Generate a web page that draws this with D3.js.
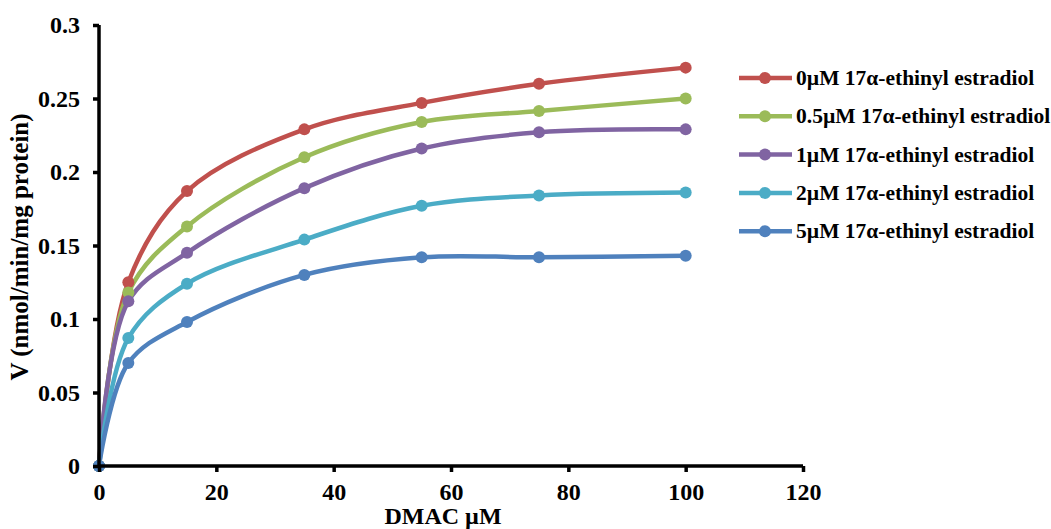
<!DOCTYPE html>
<html><head><meta charset="utf-8">
<script src="https://cdn.jsdelivr.net/npm/d3@7"></script>
<style>body{margin:0;background:#fff}svg{display:block}</style>
</head><body>
<svg id="c" width="1051" height="529"></svg>
<script>
const xValues = [0, 5, 15, 35, 55, 75, 100];
const seriesNames = ["0\u00b5M 17\u03b1-ethinyl estradiol","0.5\u00b5M 17\u03b1-ethinyl estradiol","1\u00b5M 17\u03b1-ethinyl estradiol","2\u00b5M 17\u03b1-ethinyl estradiol","5\u00b5M 17\u03b1-ethinyl estradiol"];
const s0 = [0, 0.125, 0.187, 0.229, 0.247, 0.260, 0.271];
const s05 = [0, 0.118, 0.163, 0.210, 0.234, 0.2415, 0.250];
const s1 = [0, 0.112, 0.145, 0.189, 0.216, 0.227, 0.229];
const s2 = [0, 0.087, 0.124, 0.154, 0.177, 0.184, 0.186];
const s5 = [0, 0.070, 0.098, 0.130, 0.142, 0.142, 0.143];
const seriesValues = [s0, s05, s1, s2, s5];
const colors = ["#C0504D","#9BBB59","#8064A2","#4BACC6","#4F81BD"];
const xTicks = [0,20,40,60,80,100,120];
const yTicks = [0,0.05,0.1,0.15,0.2,0.25,0.3];
const yTickLabels = ["0","0.05","0.1","0.15","0.2","0.25","0.3"];

const svg = d3.select("#c");
const font = "'Liberation Serif','Times New Roman',serif";
const x = d3.scaleLinear().domain([0,120]).range([99,803]);
const y = d3.scaleLinear().domain([0,0.3]).range([466,25]);

const line = d3.line().x(d=>x(d[0])).y(d=>y(d[1])).curve(d3.curveCatmullRom.alpha(0.5));

seriesValues.forEach((vals,i)=>{
  const pts = xValues.map((xv,j)=>[xv,vals[j]]);
  svg.append("path").attr("d",line(pts)).attr("fill","none")
    .attr("stroke",colors[i]).attr("stroke-width",4.5).attr("stroke-linecap","round");
});
seriesValues.forEach((vals,i)=>{
  svg.selectAll(null).data(xValues.map((xv,j)=>[xv,vals[j]])).enter().append("circle")
    .attr("cx",d=>x(d[0])).attr("cy",d=>y(d[1])).attr("r",6).attr("fill",colors[i]);
});

const yAxis = d3.axisLeft(y).tickValues(yTicks).tickSize(6).tickFormat((d,i)=>yTickLabels[i]).tickPadding(13);
const gy = svg.append("g").attr("transform","translate(99,0)").call(yAxis);
const xAxis = d3.axisBottom(x).tickValues(xTicks).tickSize(6).tickPadding(11);
const gx = svg.append("g").attr("transform","translate(0,466)").call(xAxis);
[gx,gy].forEach(g=>{
  g.select(".domain").attr("stroke","#000").attr("stroke-width",3.5);
  g.selectAll(".tick line").attr("stroke","#000").attr("stroke-width",3.5);
  g.selectAll("text").attr("font-family",font).attr("font-weight","bold").attr("font-size",24).attr("fill","#000");
});
gx.select(".domain").attr("d","M99,0H803");
gy.select(".domain").attr("d","M0,466V25");

svg.append("text").attr("x",443).attr("y",524).attr("text-anchor","middle")
  .attr("font-family",font).attr("font-weight","bold").attr("font-size",24).text("DMAC \u00b5M");
svg.append("text").attr("transform","translate(28,247) rotate(-90)").attr("text-anchor","middle")
  .attr("font-family",font).attr("font-weight","bold").attr("font-size",25).text("V (nmol/min/mg protein)");

const lg = svg.append("g");
seriesNames.forEach((n,i)=>{
  const yy = 78 + i*38.3;
  lg.append("line").attr("x1",739).attr("x2",792).attr("y1",yy).attr("y2",yy).attr("stroke",colors[i]).attr("stroke-width",4.5);
  lg.append("circle").attr("cx",765).attr("cy",yy).attr("r",6).attr("fill",colors[i]);
  lg.append("text").attr("x",796).attr("y",yy+7).attr("font-family",font).attr("font-weight","bold").attr("font-size",21.5).text(n);
});
</script>
</body></html>
